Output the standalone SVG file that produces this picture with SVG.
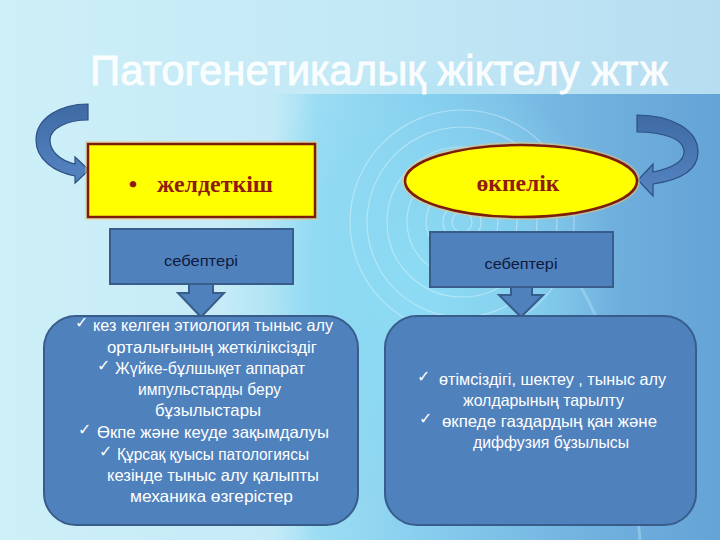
<svg xmlns="http://www.w3.org/2000/svg" width="720" height="540" viewBox="0 0 720 540">
<defs>
<linearGradient id="bg" x1="0" y1="0" x2="1" y2="0">
<stop offset="0" stop-color="#cdeff8"/>
<stop offset="0.5" stop-color="#c3e9f6"/>
<stop offset="1" stop-color="#b6ddf1"/>
</linearGradient>
<linearGradient id="band" x1="0" y1="0" x2="1" y2="0">
<stop offset="0" stop-color="#a8e2f5" stop-opacity="0"/>
<stop offset="0.1" stop-color="#98dcf3" stop-opacity="0.9"/>
<stop offset="0.35" stop-color="#86cdee"/>
<stop offset="0.7" stop-color="#72b2df"/>
<stop offset="1" stop-color="#64a3d6"/>
</linearGradient>
<radialGradient id="glow" cx="0.5" cy="0.5" r="0.5">
<stop offset="0" stop-color="#8ddcf4" stop-opacity="0.95"/>
<stop offset="0.6" stop-color="#8ad8f2" stop-opacity="0.6"/>
<stop offset="1" stop-color="#8ad8f2" stop-opacity="0"/>
</radialGradient>
<linearGradient id="arr" x1="0" y1="0" x2="0" y2="1">
<stop offset="0" stop-color="#3f6aa4"/>
<stop offset="1" stop-color="#5585c2"/>
</linearGradient>
<style>
.box{fill:#4f81bd;stroke:#385d8a;stroke-width:2}
.lbl{font-family:"Liberation Sans",Arial,sans-serif;font-size:15.5px;fill:#101a3c}
.body{font-family:"Liberation Sans",Arial,sans-serif;font-size:16.5px;fill:#ffffff}
.chk{font-family:"DejaVu Sans",sans-serif;font-size:16px;fill:#ffffff}
.head{font-family:"Liberation Serif","Times New Roman",serif;font-weight:bold;font-size:24px;fill:#8e1b0e}
.ring{fill:none;stroke:#ffffff;stroke-opacity:0.35;stroke-width:1.2}
.carrow{fill:url(#arr);stroke:#2d5082;stroke-width:1.2}
</style>
</defs>

<!-- background -->
<rect x="0" y="0" width="720" height="540" fill="url(#bg)"/>
<path d="M270 94 L720 94 L720 540 L270 540 Z" fill="url(#band)"/>
<ellipse cx="420" cy="290" rx="200" ry="230" fill="url(#glow)"/>
<path d="M567 267 C610 320 630 420 640 540" fill="none" stroke="#a8dcf3" stroke-opacity="0.5" stroke-width="3"/>
<g id="rings">
<circle class="ring" cx="462" cy="222" r="10"/>
<circle class="ring" cx="462" cy="222" r="19"/>
<circle class="ring" cx="462" cy="222" r="36"/>
<circle class="ring" cx="462" cy="222" r="55"/>
<circle class="ring" cx="462" cy="222" r="75"/>
<circle class="ring" cx="462" cy="222" r="95"/>
<circle class="ring" cx="462" cy="222" r="112"/>
</g>

<text x="379" y="85" text-anchor="middle" font-family="Liberation Sans,Arial,sans-serif" font-size="42" fill="#ffffff" fill-opacity="0.92" stroke="#ffffff" stroke-opacity="0.9" stroke-width="0.8" textLength="578" lengthAdjust="spacingAndGlyphs">Патогенетикалық жіктелу жтж</text>

<g id="connectors">
<path class="carrow" d="M88 104 C60 104 36 118 36 140 C36 160 55 172 75 176 L75 183 L89 170 L75 157 L75 164 C58 160 50 150 50 140 C50 128 68 120 88 120 Z"/>
<path class="carrow" d="M637 115 C672 115 698 130 698 152 C698 170 680 180 653 184 L653 196 L638 180 L653 164 L653 172 C672 168 684 162 684 152 C684 138 662 132 637 132 Z"/>
<polygon class="box" points="189,284 213,284 213,293 224,293 201,317 178,293 189,293"/>
<polygon class="box" points="511,287 532,287 532,295 543,295 521,317 499,295 511,295"/>
</g>

<g id="node-zheldetkish">
<rect x="88" y="144" width="227" height="73" fill="none" stroke="#f6c36a" stroke-opacity="0.5" stroke-width="6"/>
<rect x="88" y="144" width="227" height="73" fill="#ffff00" stroke="#7e1c0c" stroke-width="2.5"/>
<text class="head" x="133" y="192" text-anchor="middle" font-size="20">•</text>
<text class="head" x="157" y="192" textLength="116" lengthAdjust="spacingAndGlyphs">желдеткіш</text>
</g>

<g id="node-okpelik">
<ellipse cx="521" cy="181" rx="116" ry="36" fill="none" stroke="#f6c36a" stroke-opacity="0.5" stroke-width="6"/>
<ellipse cx="521" cy="181" rx="116" ry="36" fill="#ffff00" stroke="#7e1c0c" stroke-width="2.5"/>
<text class="head" x="518" y="191" text-anchor="middle" textLength="83" lengthAdjust="spacingAndGlyphs">өкпелік</text>
</g>

<g id="node-sebepteri-left">
<rect class="box" x="110" y="229" width="183" height="55"/>
<text class="lbl" x="201" y="266" text-anchor="middle" textLength="74" lengthAdjust="spacingAndGlyphs">себептері</text>
</g>

<g id="node-sebepteri-right">
<rect class="box" x="430" y="232" width="183" height="55"/>
<text class="lbl" x="521" y="269" text-anchor="middle" textLength="73" lengthAdjust="spacingAndGlyphs">себептері</text>
</g>

<g id="node-causes-left">
<rect class="box" x="44" y="316" width="314" height="209" rx="32" ry="32"/>
<text class="chk" x="75" y="328">✓</text>
<text class="body" x="93" y="331" textLength="240" lengthAdjust="spacingAndGlyphs">кез келген этиология тыныс алу</text>
<text class="body" x="107" y="353" textLength="210" lengthAdjust="spacingAndGlyphs">орталығының жеткіліксіздіг</text>
<text class="chk" x="97" y="371">✓</text>
<text class="body" x="115" y="374" textLength="190" lengthAdjust="spacingAndGlyphs">Жүйке-бұлшықет аппарат</text>
<text class="body" x="138" y="395" textLength="143" lengthAdjust="spacingAndGlyphs">импульстарды беру</text>
<text class="body" x="155" y="416" textLength="106" lengthAdjust="spacingAndGlyphs">бұзылыстары</text>
<text class="chk" x="78" y="435">✓</text>
<text class="body" x="97" y="438" textLength="232" lengthAdjust="spacingAndGlyphs">Өкпе және кеуде зақымдалуы</text>
<text class="chk" x="99" y="457">✓</text>
<text class="body" x="117" y="460" textLength="192" lengthAdjust="spacingAndGlyphs">Құрсақ қуысы патологиясы</text>
<text class="body" x="107" y="481" textLength="212" lengthAdjust="spacingAndGlyphs">кезінде тыныс алу қалыпты</text>
<text class="body" x="130" y="502" textLength="163" lengthAdjust="spacingAndGlyphs">механика өзгерістер</text>
</g>

<g id="node-causes-right">
<rect class="box" x="385" y="316" width="311" height="209" rx="32" ry="32"/>
<text class="chk" x="417" y="382">✓</text>
<text class="body" x="439" y="385" textLength="227" lengthAdjust="spacingAndGlyphs">өтімсіздігі, шектеу , тыныс алу</text>
<text class="body" x="463" y="406" textLength="161" lengthAdjust="spacingAndGlyphs">жолдарының тарылту</text>
<text class="chk" x="419" y="424">✓</text>
<text class="body" x="442" y="427" textLength="215" lengthAdjust="spacingAndGlyphs">өкпеде газдардың қан және</text>
<text class="body" x="473" y="448" textLength="156" lengthAdjust="spacingAndGlyphs">диффузия бұзылысы</text>
</g>
</svg>
